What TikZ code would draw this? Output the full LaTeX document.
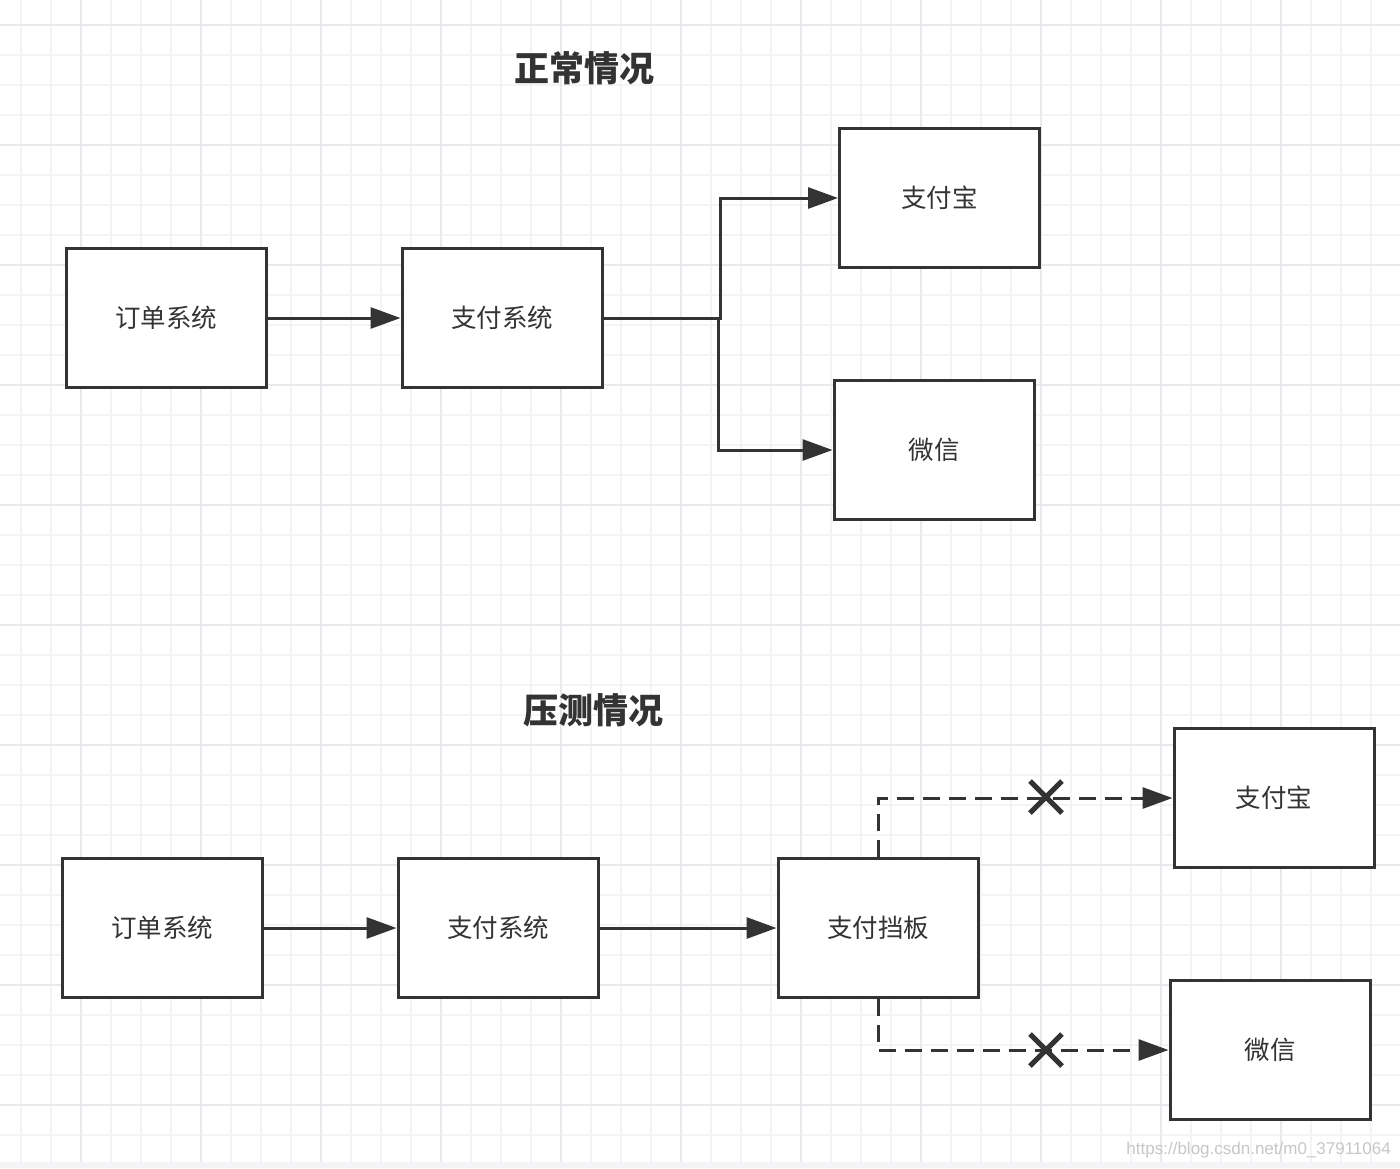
\documentclass[tikz,border=0pt]{standalone}
\usepackage{fontspec}
\setmainfont{Noto Sans CJK SC}
\newfontfamily\wmfont{Liberation Sans}
\usetikzlibrary{arrows.meta}
\definecolor{ink}{HTML}{333333}
\definecolor{gridminor}{HTML}{F4F4F7}
\definecolor{gridmajor}{HTML}{E8E8ED}
\tikzset{
  sysbox/.style={draw=ink, line width=3pt, fill=white, minimum width=200pt, minimum height=139pt, inner sep=0pt, text=ink, font=\fontsize{25.5}{30}\selectfont},
  titletext/.style={text=ink, font=\fontsize{35}{40}\selectfont\bfseries},
  conn/.style={draw=ink, line width=3pt, -{Triangle[length=30pt,width=21pt]}},
  dconn/.style={conn, dash pattern=on 17pt off 9pt},
  xmark/.style={draw=ink, line width=5pt},
}
\begin{document}
\begin{tikzpicture}[x=1pt,y=-1pt]
\useasboundingbox (0,0) rectangle (1400,1168);
\fill[white] (0,0) rectangle (1400,1168);
% grid
\foreach \x in {21,51,...,1400} \draw[gridminor, line width=2pt] (\x,0) -- (\x,1168);
\foreach \y in {25,55,...,1168} \draw[gridminor, line width=2pt] (0,\y) -- (1400,\y);
\foreach \x in {81,201,...,1400} \draw[gridmajor, line width=2pt] (\x,0) -- (\x,1168);
\foreach \y in {25,145,...,1168} \draw[gridmajor, line width=2pt] (0,\y) -- (1400,\y);
\fill[gridminor] (0,1162) rectangle (1400,1168);

% titles
\node[titletext] (t1) at (584,68) {正常情况};
\node[titletext] (t2) at (593,710) {压测情况};

% top diagram
\node[sysbox] (o1) at (166,318) {订单系统};
\node[sysbox] (p1) at (502,318) {支付系统};
\node[sysbox] (a1) at (939.5,198) {支付宝};
\node[sysbox] (w1) at (934,450) {微信};
\coordinate (j1) at (720,318);
\coordinate (j2) at (718,318);
\draw[conn] (o1) -- (p1);
\draw[conn] (p1.east) -- (j1) |- (a1);
\draw[conn] (p1.east) -- (j2) |- (w1);

% bottom diagram
\node[sysbox] (o2) at (162,928) {订单系统};
\node[sysbox] (p2) at (498,928) {支付系统};
\node[sysbox] (b2) at (878,928) {支付挡板};
\node[sysbox] (a2) at (1274,798) {支付宝};
\node[sysbox] (w2) at (1270,1050) {微信};
\draw[conn] (o2) -- (p2);
\draw[conn] (p2) -- (b2);
\draw[dconn] (b2.north) |- (a2);
\draw[dconn] (b2.south) |- (w2);
\coordinate (x1) at (1046,797);
\coordinate (x2) at (1046,1050);
\foreach \c in {x1,x2} {
  \draw[xmark] ([shift={(-16,-16)}]\c) -- ([shift={(16,16)}]\c);
  \draw[xmark] ([shift={(-16,16)}]\c) -- ([shift={(16,-16)}]\c);
}

% watermark
\node[anchor=east, text=black!22, font=\wmfont\fontsize{17}{20}\selectfont, inner sep=0pt] (wm) at (1391,1150) {https://blog.csdn.net/m0\_37911064};
\end{tikzpicture}
\end{document}
